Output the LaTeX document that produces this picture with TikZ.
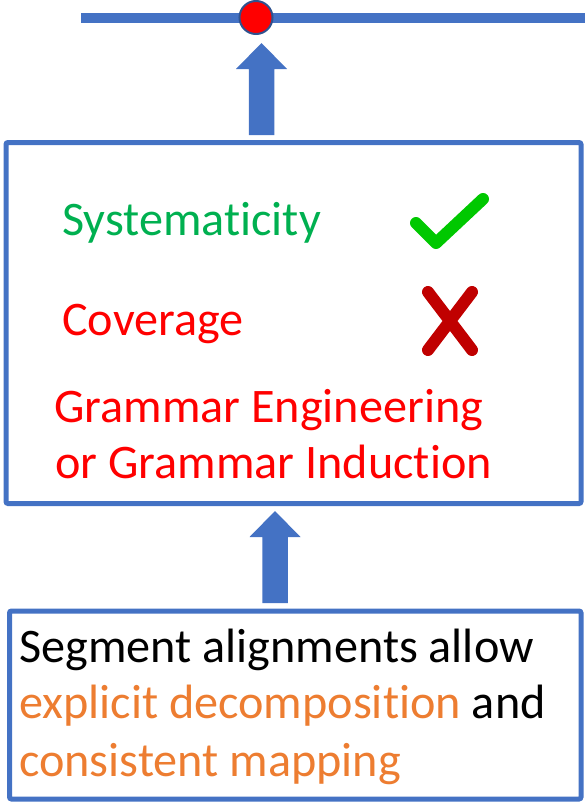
\documentclass[tikz,border=0pt]{standalone}
\usepackage{fontspec}
\setmainfont{Carlito}[Ligatures=NoCommon]
\usetikzlibrary{calc}
\definecolor{frameblue}{HTML}{4472C4}
\definecolor{dotrim}{HTML}{2F528F}
\definecolor{okgreen}{HTML}{00B050}
\definecolor{tickgreen}{HTML}{00C800}
\definecolor{crossred}{HTML}{C00000}
\definecolor{accent}{HTML}{ED7D31}
\tikzset{
  framebox/.style={draw=frameblue, line width=5pt, rounded corners=2pt, inner sep=0pt},
  label text/.style={anchor=base west, inner sep=0pt, font=\fontsize{48.2}{57}\selectfont},
  rail/.style={draw=frameblue, line width=10.6pt},
}
% block arrow pointing up from #1 (base of shaft) to #2 (tip)
\newcommand\blockup[2]{%
  \fill[frameblue] let \p1=(#1), \p2=(#2) in
    (\x1-12.75pt,\y1) -- (\x1-12.75pt,\y2-26pt) -- (\x1-25.5pt,\y2-26pt) --
    (\x2,\y2) -- (\x1+25.5pt,\y2-26pt) -- (\x1+12.75pt,\y2-26pt) --
    (\x1+12.75pt,\y1) -- cycle;}
\begin{document}
\begin{tikzpicture}[x=1pt,y=-1pt]
  \useasboundingbox (0,0) rectangle (585,803);

  % top rail with the red point on it
  \coordinate (railL) at (81,18);
  \coordinate (railR) at (585,18);
  \draw[rail] (railL) -- (railR);
  \node[circle, draw=dotrim, line width=2pt, fill=red, minimum size=33pt, inner sep=0pt] (dot) at (256,17.5) {};

  % middle and lower boxes
  \node[framebox, minimum width=575pt, minimum height=361pt] (mid) at (293.5,323) {};
  \node[framebox, minimum width=571.5pt, minimum height=188pt] (low) at (295.25,705) {};

  % arrows
  \coordinate (a1base) at (261.5,135);
  \coordinate (a1tip) at (261.5,43);
  \blockup{a1base}{a1tip}
  \coordinate (a2base) at (275,603);
  \coordinate (a2tip) at (275,511);
  \blockup{a2base}{a2tip}

  % middle box contents
  \node[label text, text=okgreen] (sys) at (62,235.7) {Systematicity};
  \node[label text, text=red] (cov) at (62,335.7) {Coverage};
  \node[label text, text=red] (ge) at (54,422) {Grammar Engineering};
  \node[label text, text=red] (gi) at (55,478) {or Grammar Induction};

  % tick and cross marks
  \draw[tickgreen, line width=12pt, line cap=round, line join=round]
    (416,223) -- (436,243) -- (483,199);
  \draw[crossred, line width=12pt, line cap=round]
    (428,292) -- (472,350) (472,292) -- (428,350);

  % lower box contents
  \node[label text] (l1) at (19,662) {Segment alignments allow};
  \node[label text] (l2) at (19,718) {\textcolor{accent}{explicit decomposition} and};
  \node[label text, text=accent] (l3) at (19,776) {consistent mapping};
\end{tikzpicture}
\end{document}
